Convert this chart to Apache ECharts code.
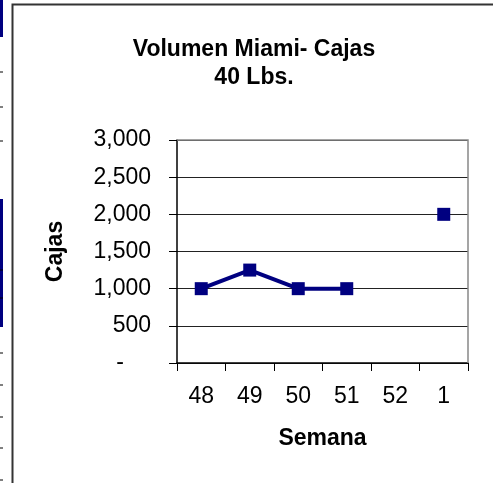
<!DOCTYPE html>
<html>
<head>
<meta charset="utf-8">
<script src="https://cdn.jsdelivr.net/npm/echarts@6/dist/echarts.min.js"></script>
<style>
  html, body { margin: 0; padding: 0; background: #fff; }
  #main { width: 493px; height: 483px; }
</style>
</head>
<body>
<div id="main"></div>
<script>
// datos
var semanas = ['48', '49', '50', '51', '52', '1'];
var cajas = [1000, 1250, 1000, 1000, null, 2000];
var ticksY = [0, 500, 1000, 1500, 2000, 2500, 3000];

var myChart = echarts.init(document.getElementById('main'));

// formato contable: el cero se muestra como guion
function formatoY(v) {
    if (v === 0) return '{g|-}';
    return String(v).replace(/\B(?=(\d{3})+(?!\d))/g, ',');
}

// restos de la hoja de calculo a la izquierda
var restos = [
    { type: 'rect', shape: { x: 0, y: 0, width: 3, height: 37 }, style: { fill: '#000080' } },
    { type: 'rect', shape: { x: 0, y: 199, width: 3, height: 128 }, style: { fill: '#000080' } }
];
[72, 107, 141, 270, 298, 353, 385, 417, 448, 480].forEach(function (y) {
    restos.push({ type: 'line', shape: { x1: 0, y1: y, x2: 3, y2: y }, style: { stroke: '#000', lineWidth: 1 } });
});
// marco del grafico
restos.push({ type: 'polyline', shape: { points: [[12.5, 490], [12.5, 4.5], [500, 4.5]] }, style: { stroke: '#333', lineWidth: 2, fill: null } });
// borde gris superior y derecho del area de trazado
restos.push({ type: 'polyline', shape: { points: [[177, 140], [468, 140], [468, 363]] }, style: { stroke: '#888', lineWidth: 1.5, fill: null }, z: 5 });

var fuente = 'Liberation Sans';

var option = {
    animation: false,
    title: {
        text: 'Volumen Miami- Cajas\n40 Lbs.',
        left: 249,
        top: 31,
        textAlign: 'center',
        textStyle: { fontFamily: fuente, fontSize: 23, fontWeight: 'bold', color: '#000', lineHeight: 28 }
    },
    grid: { left: 177, top: 140, right: 25, bottom: 120 },
    xAxis: {
        type: 'category',
        data: semanas,
        boundaryGap: true,
        name: 'Semana',
        nameLocation: 'middle',
        nameGap: 64,
        nameTextStyle: { fontFamily: fuente, fontSize: 23, fontWeight: 'bold', color: '#000' },
        axisLine: { lineStyle: { color: '#000', width: 1.5 } },
        axisTick: { show: true, length: 8, lineStyle: { color: '#000' } },
        axisLabel: { fontFamily: fuente, fontSize: 23, color: '#000', margin: 22 }
    },
    yAxis: {
        type: 'value',
        min: ticksY[0],
        max: ticksY[ticksY.length - 1],
        interval: ticksY[1] - ticksY[0],
        name: 'Cajas',
        nameLocation: 'middle',
        nameGap: 110,
        nameTextStyle: { fontFamily: fuente, fontSize: 23, fontWeight: 'bold', color: '#000' },
        axisLine: { show: true, lineStyle: { color: '#000', width: 1.5 } },
        axisTick: { show: true, length: 8, lineStyle: { color: '#000' } },
        axisLabel: {
            fontFamily: fuente, fontSize: 23, color: '#000', margin: 26, formatter: formatoY,
            rich: { g: { fontFamily: fuente, fontSize: 23, color: '#000', padding: [0, 27, 0, 0] } }
        },
        splitLine: { show: true, lineStyle: { color: '#222', width: 1 } }
    },
    graphic: restos,
    series: [{
        name: 'Cajas',
        type: 'line',
        data: cajas,
        connectNulls: false,
        symbol: 'rect',
        symbolSize: 13,
        itemStyle: { color: '#000080' },
        lineStyle: { color: '#000080', width: 4 }
    }]
};

myChart.setOption(option);
</script>
</body>
</html>
